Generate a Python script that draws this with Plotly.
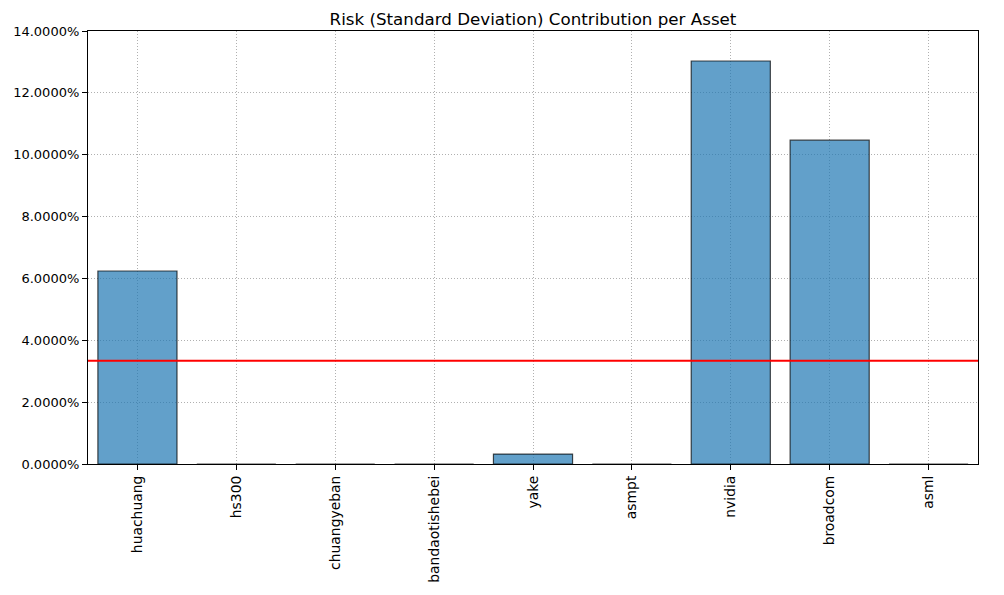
import plotly.graph_objects as go
import numpy as np

assets = ["huachuang", "hs300", "chuangyeban", "bandaotishebei", "yake",
          "asmpt", "nvidia", "broadcom", "asml"]
risk_contrib = [0.0624, 0.0, 0.0, 0.0, 0.0032, 0.0, 0.1303, 0.1047, 0.0]
y_ticks = [0, 0.02, 0.04, 0.06, 0.08, 0.10, 0.12, 0.14]

avg_contrib = float(np.mean(risk_contrib))

fig = go.Figure()
fig.add_trace(go.Bar(
    x=assets, y=risk_contrib, width=0.8,
    marker=dict(color="rgba(31,119,180,0.7)",
                line=dict(color="rgba(0,0,0,0.7)", width=1.2)),
    showlegend=False,
))
fig.add_shape(type="line", xref="paper", x0=0, x1=1, yref="y",
              y0=avg_contrib, y1=avg_contrib,
              line=dict(color="red", width=2))

font = "DejaVu Sans"
fig.update_layout(
    width=1004, height=595,
    margin=dict(l=80, r=34, t=23, b=139),
    paper_bgcolor="white", plot_bgcolor="white",
    font=dict(family=font, size=13, color="black"),
    title=dict(text="Risk (Standard Deviation) Contribution per Asset",
               x=0.5, xref="paper", xanchor="center",
               y=1, yref="paper", yanchor="bottom", pad=dict(b=6),
               font=dict(family=font, size=16.7, color="black")),
    bargap=0.2,
)
grid_dash = "1px,2px"
fig.update_xaxes(
    range=[-0.5, 8.5], tickangle=-90, automargin=False,
    showline=True, linecolor="black", linewidth=1.2, mirror=True,
    ticks="outside", ticklen=5, tickcolor="black", tickwidth=1,
    showgrid=True, gridcolor="#b0b0b0", griddash=grid_dash, gridwidth=1,
    tickfont=dict(family=font, size=13.9),
)
fig.update_yaxes(
    range=[0, 0.14], tickvals=y_ticks, tickformat=".4%", automargin=False,
    showline=True, linecolor="black", linewidth=1.2, mirror=True,
    ticks="outside", ticklen=5, tickcolor="black", tickwidth=1,
    showgrid=True, gridcolor="#b0b0b0", griddash=grid_dash, gridwidth=1,
    zeroline=False, tickfont=dict(family=font, size=13),
)
fig.write_html("out.html")
